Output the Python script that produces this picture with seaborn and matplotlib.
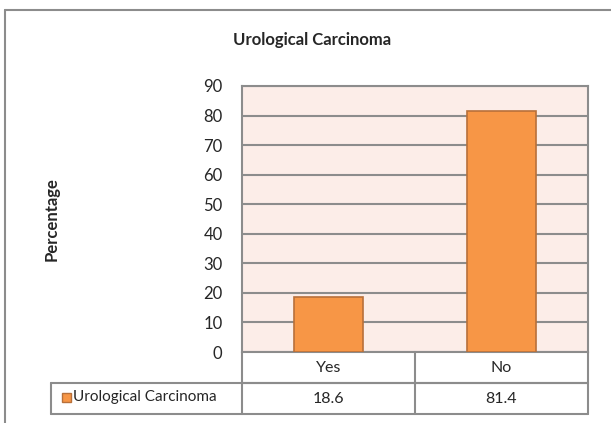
import matplotlib
matplotlib.use("Agg")
import matplotlib.pyplot as plt
import seaborn as sns
from matplotlib.lines import Line2D
from matplotlib.patches import Rectangle

# chart data
categories = ["Yes", "No"]
values = [18.6, 81.4]
series_name = "Urological Carcinoma"
y_ticks = [0, 10, 20, 30, 40, 50, 60, 70, 80, 90]

sns.set_style("white")
plt.rcParams['font.family'] = ['Lato', 'DejaVu Sans']

W, H = 611, 423
fig = plt.figure(figsize=(W / 100, H / 100), dpi=100)

# plot area in pixel units
left, right, top, bottom = 242, 588, 86, 352
ax = fig.add_axes([left / W, 1 - bottom / H, (right - left) / W, (bottom - top) / H])

bar_color = "#F79646"
edge_color = "#B8703A"
grid_color = "#8C8C8C"

ax.set_facecolor("#FCEDE8")
sns.barplot(x=categories, y=values, color=bar_color, edgecolor=edge_color,
            linewidth=1.2, width=0.4, saturation=1, ax=ax, zorder=3)

ax.set_ylim(0, 90)
ax.set_xlim(-0.5, 1.5)
ax.set_yticks(y_ticks)
ax.set_yticklabels([str(t) for t in y_ticks], fontsize=12)
ax.tick_params(axis='y', length=0, pad=14)
ax.set_xticks([])
ax.set_xlabel("")
ax.yaxis.grid(True, color=grid_color, linewidth=1.5, zorder=0)
ax.set_axisbelow(True)
for side in ["top", "right", "left", "bottom"]:
    ax.spines[side].set_color(grid_color)
    ax.spines[side].set_linewidth(1.5)

ax.set_ylabel("Percentage", fontsize=12, fontweight="bold", labelpad=0)
ax.yaxis.set_label_coords((60 - left) / (right - left), 0.5)

fig.text(312 / W, 1 - 40 / H, "Urological Carcinoma", fontsize=12,
         fontweight="bold", ha="center", va="center")

# data table under the plot area (axes fraction coords)
ph = bottom - top
pw = right - left
row1 = -(383 - bottom) / ph
row2 = -(414 - bottom) / ph
lab_left = (51 - left) / pw
tbl_kw = dict(color=grid_color, linewidth=1.5, transform=ax.transAxes, clip_on=False)
for xx in [0, 0.5, 1]:
    ax.add_line(Line2D([xx, xx], [0, row2], **tbl_kw))
ax.add_line(Line2D([lab_left, lab_left], [row1, row2], **tbl_kw))
ax.add_line(Line2D([0, 1], [row1, row1], **tbl_kw))
ax.add_line(Line2D([lab_left, 1], [row1, row1], **tbl_kw))
ax.add_line(Line2D([lab_left, 1], [row2, row2], **tbl_kw))

for i, (cat, val) in enumerate(zip(categories, values)):
    xc = 0.25 + 0.5 * i
    ax.text(xc, row1 / 2, cat, transform=ax.transAxes, ha="center", va="center", fontsize=11.5)
    ax.text(xc, (row1 + row2) / 2, f"{val}", transform=ax.transAxes,
            ha="center", va="center", fontsize=11.5)

sq = 9
fig.patches.append(Rectangle((62 / W, 1 - (397 + sq / 2) / H), sq / W, sq / H,
                             facecolor=bar_color, edgecolor=edge_color, linewidth=1,
                             transform=fig.transFigure))
fig.text(73 / W, 1 - 397 / H, series_name, fontsize=11, ha="left", va="center")

# outer chart border
fig.add_artist(Line2D([5 / W, 5 / W], [0, 1 - 10 / H], color=grid_color, linewidth=1.5))
fig.add_artist(Line2D([5 / W, 1], [1 - 10 / H, 1 - 10 / H], color=grid_color, linewidth=1.5))

fig.savefig("out.png", dpi=100)
